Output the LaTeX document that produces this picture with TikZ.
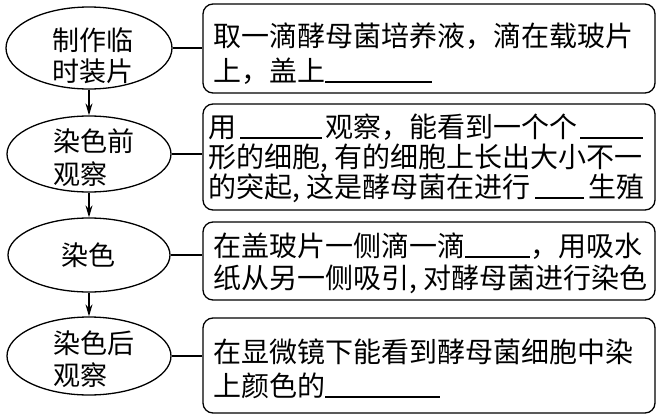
\documentclass[tikz,border=0pt]{standalone}
\usepackage{fontspec}
\newfontfamily\cjk{Noto Sans CJK SC}
\usetikzlibrary{shapes.geometric,arrows.meta}
\newcommand\ublank[1]{\rule[-1.5pt]{#1pt}{1.2pt}}
\newcommand\hcomma{\makebox[14pt][l]{,}}
\begin{document}
\begin{tikzpicture}[x=1pt,y=-1pt,
  ell/.style={draw,ellipse,line width=1.3pt,inner sep=0pt},
  box/.style={draw,rounded corners=10pt,line width=1.3pt,inner sep=0pt,minimum width=452pt},
  txt/.style={inner sep=0pt,anchor=base west,font=\cjk\fontsize{28}{28}\selectfont},
  etxt/.style={inner sep=0pt,anchor=base west,font=\cjk\fontsize{27}{27}\selectfont},
  arr/.style={line width=1.2pt,-{Stealth[length=12pt,width=7pt]}},
  con/.style={line width=1.2pt}]
\useasboundingbox (0,0) rectangle (662,418);
% ellipses
\node[ell,minimum width=166pt,minimum height=82pt] (e1) at (89,48) {};
\node[ell,minimum width=164pt,minimum height=76pt] (e2) at (89,154) {};
\node[ell,minimum width=162pt,minimum height=74pt] (e3) at (89,255) {};
\node[ell,minimum width=164pt,minimum height=78pt] (e4) at (89,356) {};
% boxes
\node[box,minimum height=89pt] (b1) at (429,48.5) {};
\node[box,minimum height=106pt] (b2) at (429,157) {};
\node[box,minimum height=78pt] (b3) at (429,261) {};
\node[box,minimum height=95pt] (b4) at (429,365.5) {};
% arrows
\draw[arr] (e1.south) -- (e2.north);
\draw[arr] (e2.south) -- (e3.north);
\draw[arr] (e3.south) -- (e4.north);
% connectors
\draw[con] (e1.east) -- (e1.east -| b1.west);
\draw[con] (e2.east) -- (e2.east -| b2.west);
\draw[con] (e3.east) -- (e3.east -| b3.west);
\draw[con] (e4.east) -- (e4.east -| b4.west);
% ellipse texts
\node[etxt] (et1a) at (52,50) {制作临};
\node[etxt] (et1b) at (52,81) {时装片};
\node[etxt] (et2a) at (53,151) {染色前};
\node[etxt] (et2b) at (53,184) {观察};
\node[etxt,anchor=base] (et3) at (88,265) {染色};
\node[etxt] (et4a) at (53,353) {染色后};
\node[etxt] (et4b) at (53,385) {观察};
% box texts
\node[txt] (t1a) at (213,46) {取一滴酵母菌培养液，滴在载玻片};
\node[txt] (t1b) at (213,81) {上，盖上\ublank{107}};
\node[txt] (t2a) at (208,137) {用\hspace{4pt}\ublank{82}\hspace{3pt}观察，能看到一个个\hspace{3pt}\ublank{63}};
\node[txt] (t2b) at (208,167) {形的细胞\hcomma 有的细胞上长出大小不一};
\node[txt] (t2c) at (208,197) {的突起\hcomma 这是酵母菌在进行\hspace{5pt}\ublank{49}\hspace{4pt}生殖};
\node[txt] (t3a) at (213,256) {在盖玻片一侧滴一滴\ublank{65}，用吸水};
\node[txt] (t3b) at (213,288) {纸从另一侧吸引\hcomma 对酵母菌进行染色};
\node[txt] (t4a) at (213,362) {在显微镜下能看到酵母菌细胞中染};
\node[txt] (t4b) at (213,396) {上颜色的\ublank{115}};
\end{tikzpicture}
\end{document}
